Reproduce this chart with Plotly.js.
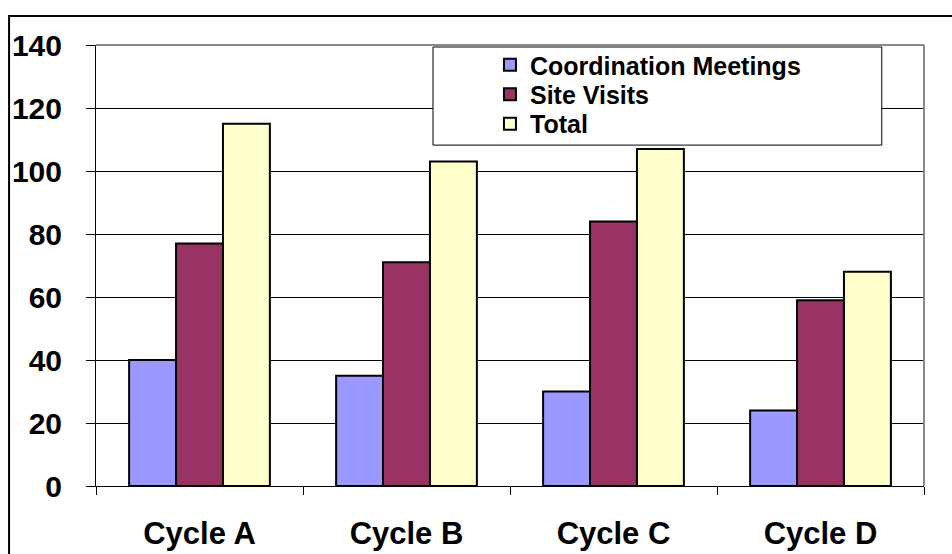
<!DOCTYPE html>
<html>
<head>
<meta charset="utf-8">
<script src="https://cdn.plot.ly/plotly-3.0.1.min.js"></script>
<style>html,body{margin:0;padding:0;background:#fff;}#chart{width:952px;height:554px;}</style>
</head>
<body>
<div id="chart"></div>
<script>
const categories = ["Cycle A", "Cycle B", "Cycle C", "Cycle D"];
const coordinationMeetings = [40, 35, 30, 24];
const siteVisits = [77, 71, 84, 59];
const total = [115, 103, 107, 68];
const seriesNames = ["Coordination Meetings", "Site Visits", "Total"];
const seriesColors = ["#9999FF", "#993366", "#FFFFCC"];

const font = "'Liberation Sans', Arial, sans-serif";
const seriesValues = [coordinationMeetings, siteVisits, total];
const legendIds = ["legend", "legend2", "legend3"];
const traces = seriesValues.map((vals, i) => ({
  type: "bar",
  x: categories,
  y: vals,
  name: seriesNames[i],
  legend: legendIds[i],
  marker: { color: seriesColors[i], line: { color: "#000", width: 2 } },
  hoverinfo: "x+y+name"
}));

const legendYs = [0.9546, 0.8878, 0.8209];
function legendOf(i) {
  return {
    x: 0.4758, y: legendYs[i], xanchor: "left", yanchor: "middle",
    bgcolor: "rgba(0,0,0,0)", borderwidth: 0,
    font: { family: font, size: 25, color: "#000", weight: "bold" }
  };
}

const layout = {
  width: 952, height: 554,
  margin: { l: 96, r: 28, t: 45, b: 68, pad: 0 },
  paper_bgcolor: "#fff", plot_bgcolor: "#fff",
  font: { family: font, color: "#000" },
  barmode: "group", bargap: 0.32, bargroupgap: 0,
  showlegend: true,
  legend: legendOf(0),
  legend2: legendOf(1),
  legend3: legendOf(2),
  xaxis: {
    type: "category",
    showline: true, linecolor: "#000", linewidth: 1,
    ticks: "outside", tickson: "boundaries", ticklen: 8, tickcolor: "#000", tickwidth: 1,
    tickfont: { family: font, size: 31, color: "#000", weight: "bold" },
    ticklabelstandoff: 20,
    showgrid: false, zeroline: false, fixedrange: true
  },
  yaxis: {
    range: [0, 140], dtick: 20, tick0: 0,
    showline: true, linecolor: "#000", linewidth: 1,
    ticks: "outside", ticklen: 9, tickcolor: "#000", tickwidth: 1,
    tickfont: { family: font, size: 30, color: "#000", weight: "bold" },
    ticklabelstandoff: 18,
    showgrid: true, gridcolor: "#000", gridwidth: 1,
    zeroline: false, fixedrange: true
  },
  shapes: [
    { type: "rect", xref: "paper", yref: "paper", x0: -0.105, x1: 1.2, y0: -0.3, y1: 1.066,
      line: { color: "#000", width: 2 }, fillcolor: "rgba(0,0,0,0)", layer: "above" },
    { type: "line", xref: "paper", yref: "paper", x0: 0, x1: 1, y0: 1, y1: 1,
      line: { color: "#888", width: 2 }, layer: "above" },
    { type: "line", xref: "paper", yref: "paper", x0: 1, x1: 1, y0: 0, y1: 1,
      line: { color: "#888", width: 2 }, layer: "above" },
    { type: "rect", xref: "paper", yref: "paper", x0: 0.407, x1: 0.949, y0: 0.773, y1: 0.9955,
      line: { color: "#000", width: 1 }, fillcolor: "#fff", layer: "above" }
  ]
};

Plotly.newPlot("chart", traces, layout, { displayModeBar: false, staticPlot: true });
</script>
</body>
</html>
